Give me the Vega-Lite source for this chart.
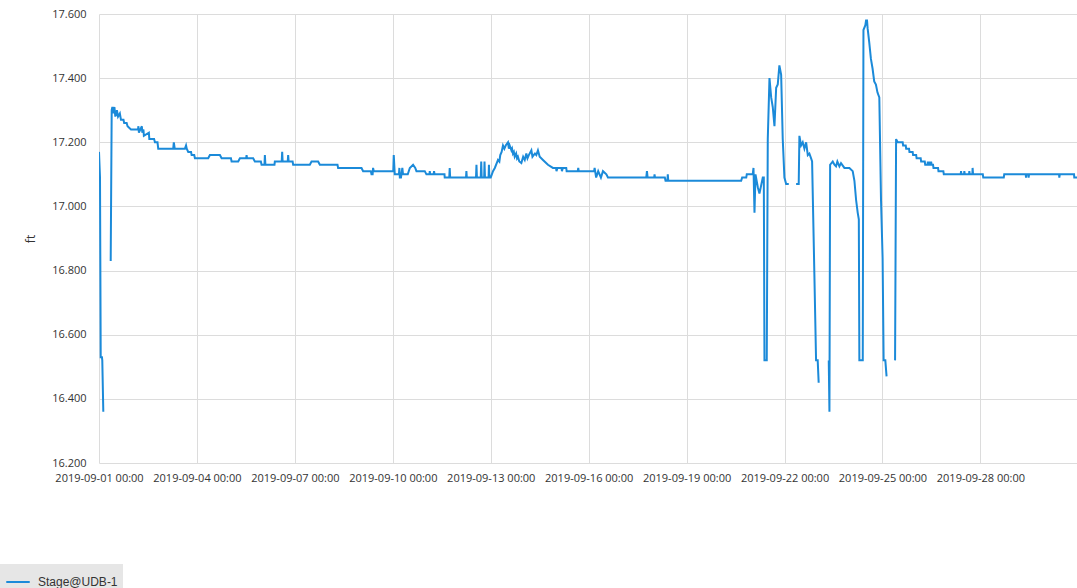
{
"$schema": "https://vega.github.io/schema/vega-lite/v6.json",
"width": 978, "height": 449,
"autosize": {"type": "none"},
"padding": {"left": 99, "top": 14, "right": 0, "bottom": 125},
"background": "white",
"config": {"view": {"stroke": null},
 "axis": {"grid": true, "gridColor": "#dcdcdc", "gridWidth": 1, "domain": false, "ticks": false, "labelFont": "Open Sans", "labelFontSize": 11, "labelColor": "#333333", "titleFont": "Open Sans", "titleFontSize": 12, "titleFontWeight": "normal", "titleColor": "#333333"}},
"data": {"values": [
{"t":"2019-09-01T00:00","v":17.17,"seg":1},
{"t":"2019-09-01T00:44","v":17.09,"seg":1},
{"t":"2019-09-01T01:15","v":16.53,"seg":1},
{"t":"2019-09-01T02:10","v":16.53,"seg":1},
{"t":"2019-09-01T02:25","v":16.52,"seg":1},
{"t":"2019-09-01T03:10","v":16.36,"seg":1},
{"t":"2019-09-01T08:36","v":16.83,"seg":2},
{"t":"2019-09-01T09:20","v":17.30,"seg":2},
{"t":"2019-09-01T09:50","v":17.31,"seg":2},
{"t":"2019-09-01T10:30","v":17.29,"seg":2},
{"t":"2019-09-01T11:20","v":17.31,"seg":2},
{"t":"2019-09-01T12:00","v":17.28,"seg":2},
{"t":"2019-09-01T13:10","v":17.30,"seg":2},
{"t":"2019-09-01T14:00","v":17.28,"seg":2},
{"t":"2019-09-01T15:20","v":17.29,"seg":2},
{"t":"2019-09-01T16:10","v":17.27,"seg":2},
{"t":"2019-09-01T18:00","v":17.27,"seg":2},
{"t":"2019-09-01T18:30","v":17.26,"seg":2},
{"t":"2019-09-01T20:20","v":17.26,"seg":2},
{"t":"2019-09-01T21:00","v":17.25,"seg":2},
{"t":"2019-09-01T23:30","v":17.24,"seg":2},
{"t":"2019-09-02T04:40","v":17.24,"seg":2},
{"t":"2019-09-02T05:00","v":17.25,"seg":2},
{"t":"2019-09-02T05:20","v":17.23,"seg":2},
{"t":"2019-09-02T07:30","v":17.25,"seg":2},
{"t":"2019-09-02T07:50","v":17.23,"seg":2},
{"t":"2019-09-02T08:40","v":17.24,"seg":2},
{"t":"2019-09-02T09:00","v":17.22,"seg":2},
{"t":"2019-09-02T12:40","v":17.23,"seg":2},
{"t":"2019-09-02T13:00","v":17.21,"seg":2},
{"t":"2019-09-02T16:30","v":17.21,"seg":2},
{"t":"2019-09-02T17:08","v":17.20,"seg":2},
{"t":"2019-09-02T19:00","v":17.20,"seg":2},
{"t":"2019-09-02T19:33","v":17.18,"seg":2},
{"t":"2019-09-03T06:35","v":17.18,"seg":2},
{"t":"2019-09-03T07:00","v":17.20,"seg":2},
{"t":"2019-09-03T07:40","v":17.18,"seg":2},
{"t":"2019-09-03T15:11","v":17.18,"seg":2},
{"t":"2019-09-03T16:00","v":17.19,"seg":2},
{"t":"2019-09-03T16:30","v":17.18,"seg":2},
{"t":"2019-09-03T17:36","v":17.17,"seg":2},
{"t":"2019-09-03T19:40","v":17.17,"seg":2},
{"t":"2019-09-03T20:06","v":17.16,"seg":2},
{"t":"2019-09-03T22:00","v":17.16,"seg":2},
{"t":"2019-09-03T22:31","v":17.15,"seg":2},
{"t":"2019-09-04T08:18","v":17.15,"seg":2},
{"t":"2019-09-04T09:32","v":17.16,"seg":2},
{"t":"2019-09-04T16:53","v":17.16,"seg":2},
{"t":"2019-09-04T18:08","v":17.15,"seg":2},
{"t":"2019-09-05T01:00","v":17.15,"seg":2},
{"t":"2019-09-05T01:29","v":17.14,"seg":2},
{"t":"2019-09-05T06:20","v":17.14,"seg":2},
{"t":"2019-09-05T07:35","v":17.15,"seg":2},
{"t":"2019-09-05T12:10","v":17.15,"seg":2},
{"t":"2019-09-05T12:30","v":17.16,"seg":2},
{"t":"2019-09-05T12:50","v":17.15,"seg":2},
{"t":"2019-09-05T17:20","v":17.15,"seg":2},
{"t":"2019-09-05T18:36","v":17.14,"seg":2},
{"t":"2019-09-05T23:00","v":17.14,"seg":2},
{"t":"2019-09-05T23:30","v":17.13,"seg":2},
{"t":"2019-09-06T01:40","v":17.13,"seg":2},
{"t":"2019-09-06T01:57","v":17.16,"seg":2},
{"t":"2019-09-06T02:20","v":17.13,"seg":2},
{"t":"2019-09-06T09:00","v":17.13,"seg":2},
{"t":"2019-09-06T09:17","v":17.14,"seg":2},
{"t":"2019-09-06T14:20","v":17.14,"seg":2},
{"t":"2019-09-06T14:40","v":17.17,"seg":2},
{"t":"2019-09-06T15:00","v":17.14,"seg":2},
{"t":"2019-09-06T18:45","v":17.14,"seg":2},
{"t":"2019-09-06T19:04","v":17.16,"seg":2},
{"t":"2019-09-06T19:25","v":17.14,"seg":2},
{"t":"2019-09-06T22:20","v":17.14,"seg":2},
{"t":"2019-09-06T22:44","v":17.13,"seg":2},
{"t":"2019-09-07T11:00","v":17.13,"seg":2},
{"t":"2019-09-07T12:15","v":17.14,"seg":2},
{"t":"2019-09-07T17:06","v":17.14,"seg":2},
{"t":"2019-09-07T18:21","v":17.13,"seg":2},
{"t":"2019-09-08T07:20","v":17.13,"seg":2},
{"t":"2019-09-08T07:47","v":17.12,"seg":2},
{"t":"2019-09-09T01:00","v":17.12,"seg":2},
{"t":"2019-09-09T02:10","v":17.11,"seg":2},
{"t":"2019-09-09T07:50","v":17.11,"seg":2},
{"t":"2019-09-09T08:20","v":17.10,"seg":2},
{"t":"2019-09-09T09:10","v":17.10,"seg":2},
{"t":"2019-09-09T09:30","v":17.12,"seg":2},
{"t":"2019-09-09T10:00","v":17.11,"seg":2},
{"t":"2019-09-10T00:20","v":17.11,"seg":2},
{"t":"2019-09-10T00:42","v":17.16,"seg":2},
{"t":"2019-09-10T01:26","v":17.10,"seg":2},
{"t":"2019-09-10T04:30","v":17.10,"seg":2},
{"t":"2019-09-10T04:50","v":17.12,"seg":2},
{"t":"2019-09-10T05:10","v":17.09,"seg":2},
{"t":"2019-09-10T06:00","v":17.09,"seg":2},
{"t":"2019-09-10T07:00","v":17.12,"seg":2},
{"t":"2019-09-10T07:30","v":17.10,"seg":2},
{"t":"2019-09-10T11:00","v":17.10,"seg":2},
{"t":"2019-09-10T12:30","v":17.12,"seg":2},
{"t":"2019-09-10T14:54","v":17.13,"seg":2},
{"t":"2019-09-10T16:30","v":17.12,"seg":2},
{"t":"2019-09-10T17:23","v":17.11,"seg":2},
{"t":"2019-09-10T23:30","v":17.11,"seg":2},
{"t":"2019-09-11T00:43","v":17.10,"seg":2},
{"t":"2019-09-11T03:00","v":17.10,"seg":2},
{"t":"2019-09-11T03:10","v":17.11,"seg":2},
{"t":"2019-09-11T03:30","v":17.10,"seg":2},
{"t":"2019-09-11T06:00","v":17.10,"seg":2},
{"t":"2019-09-11T06:20","v":17.11,"seg":2},
{"t":"2019-09-11T06:40","v":17.10,"seg":2},
{"t":"2019-09-11T14:00","v":17.10,"seg":2},
{"t":"2019-09-11T14:10","v":17.09,"seg":2},
{"t":"2019-09-11T17:30","v":17.09,"seg":2},
{"t":"2019-09-11T17:50","v":17.12,"seg":2},
{"t":"2019-09-11T18:10","v":17.09,"seg":2},
{"t":"2019-09-12T05:50","v":17.09,"seg":2},
{"t":"2019-09-12T06:06","v":17.11,"seg":2},
{"t":"2019-09-12T06:25","v":17.09,"seg":2},
{"t":"2019-09-12T13:10","v":17.09,"seg":2},
{"t":"2019-09-12T13:30","v":17.13,"seg":2},
{"t":"2019-09-12T13:50","v":17.09,"seg":2},
{"t":"2019-09-12T16:40","v":17.09,"seg":2},
{"t":"2019-09-12T17:00","v":17.14,"seg":2},
{"t":"2019-09-12T17:20","v":17.09,"seg":2},
{"t":"2019-09-12T19:10","v":17.09,"seg":2},
{"t":"2019-09-12T19:25","v":17.14,"seg":2},
{"t":"2019-09-12T19:45","v":17.09,"seg":2},
{"t":"2019-09-12T22:25","v":17.09,"seg":2},
{"t":"2019-09-12T22:40","v":17.13,"seg":2},
{"t":"2019-09-12T23:00","v":17.09,"seg":2},
{"t":"2019-09-13T00:00","v":17.09,"seg":2},
{"t":"2019-09-13T01:40","v":17.11,"seg":2},
{"t":"2019-09-13T03:00","v":17.12,"seg":2},
{"t":"2019-09-13T05:20","v":17.145,"seg":2},
{"t":"2019-09-13T06:20","v":17.14,"seg":2},
{"t":"2019-09-13T07:00","v":17.16,"seg":2},
{"t":"2019-09-13T08:00","v":17.17,"seg":2},
{"t":"2019-09-13T09:00","v":17.19,"seg":2},
{"t":"2019-09-13T10:00","v":17.18,"seg":2},
{"t":"2019-09-13T11:00","v":17.19,"seg":2},
{"t":"2019-09-13T12:40","v":17.20,"seg":2},
{"t":"2019-09-13T13:20","v":17.18,"seg":2},
{"t":"2019-09-13T13:55","v":17.19,"seg":2},
{"t":"2019-09-13T15:10","v":17.175,"seg":2},
{"t":"2019-09-13T15:40","v":17.18,"seg":2},
{"t":"2019-09-13T16:20","v":17.165,"seg":2},
{"t":"2019-09-13T17:00","v":17.17,"seg":2},
{"t":"2019-09-13T17:37","v":17.155,"seg":2},
{"t":"2019-09-13T18:40","v":17.165,"seg":2},
{"t":"2019-09-13T19:20","v":17.15,"seg":2},
{"t":"2019-09-13T20:00","v":17.155,"seg":2},
{"t":"2019-09-13T21:00","v":17.14,"seg":2},
{"t":"2019-09-13T22:30","v":17.135,"seg":2},
{"t":"2019-09-13T23:50","v":17.155,"seg":2},
{"t":"2019-09-14T01:00","v":17.145,"seg":2},
{"t":"2019-09-14T02:10","v":17.165,"seg":2},
{"t":"2019-09-14T03:00","v":17.15,"seg":2},
{"t":"2019-09-14T04:00","v":17.16,"seg":2},
{"t":"2019-09-14T05:52","v":17.175,"seg":2},
{"t":"2019-09-14T06:40","v":17.155,"seg":2},
{"t":"2019-09-14T08:30","v":17.165,"seg":2},
{"t":"2019-09-14T09:30","v":17.16,"seg":2},
{"t":"2019-09-14T10:42","v":17.175,"seg":2},
{"t":"2019-09-14T12:00","v":17.155,"seg":2},
{"t":"2019-09-14T14:24","v":17.145,"seg":2},
{"t":"2019-09-14T18:03","v":17.13,"seg":2},
{"t":"2019-09-14T21:43","v":17.12,"seg":2},
{"t":"2019-09-15T00:00","v":17.12,"seg":2},
{"t":"2019-09-15T00:20","v":17.11,"seg":2},
{"t":"2019-09-15T01:00","v":17.12,"seg":2},
{"t":"2019-09-15T04:00","v":17.12,"seg":2},
{"t":"2019-09-15T04:20","v":17.11,"seg":2},
{"t":"2019-09-15T05:00","v":17.12,"seg":2},
{"t":"2019-09-15T07:30","v":17.12,"seg":2},
{"t":"2019-09-15T07:48","v":17.11,"seg":2},
{"t":"2019-09-15T16:00","v":17.11,"seg":2},
{"t":"2019-09-15T16:20","v":17.12,"seg":2},
{"t":"2019-09-15T16:40","v":17.11,"seg":2},
{"t":"2019-09-16T04:00","v":17.11,"seg":2},
{"t":"2019-09-16T04:22","v":17.12,"seg":2},
{"t":"2019-09-16T05:30","v":17.09,"seg":2},
{"t":"2019-09-16T07:00","v":17.11,"seg":2},
{"t":"2019-09-16T09:00","v":17.09,"seg":2},
{"t":"2019-09-16T10:30","v":17.11,"seg":2},
{"t":"2019-09-16T13:00","v":17.10,"seg":2},
{"t":"2019-09-16T14:10","v":17.09,"seg":2},
{"t":"2019-09-17T18:20","v":17.09,"seg":2},
{"t":"2019-09-17T18:50","v":17.11,"seg":2},
{"t":"2019-09-17T19:20","v":17.09,"seg":2},
{"t":"2019-09-18T00:10","v":17.09,"seg":2},
{"t":"2019-09-18T00:25","v":17.10,"seg":2},
{"t":"2019-09-18T00:45","v":17.09,"seg":2},
{"t":"2019-09-18T08:00","v":17.09,"seg":2},
{"t":"2019-09-18T08:30","v":17.08,"seg":2},
{"t":"2019-09-18T09:50","v":17.08,"seg":2},
{"t":"2019-09-18T10:10","v":17.10,"seg":2},
{"t":"2019-09-18T10:30","v":17.08,"seg":2},
{"t":"2019-09-20T16:06","v":17.08,"seg":2},
{"t":"2019-09-20T16:50","v":17.09,"seg":2},
{"t":"2019-09-20T19:50","v":17.09,"seg":2},
{"t":"2019-09-20T20:14","v":17.10,"seg":2},
{"t":"2019-09-21T00:36","v":17.10,"seg":2},
{"t":"2019-09-21T01:10","v":17.12,"seg":2},
{"t":"2019-09-21T01:54","v":16.98,"seg":2},
{"t":"2019-09-21T02:38","v":17.10,"seg":2},
{"t":"2019-09-21T04:20","v":17.06,"seg":2},
{"t":"2019-09-21T05:32","v":17.04,"seg":2},
{"t":"2019-09-21T08:00","v":17.09,"seg":2},
{"t":"2019-09-21T08:45","v":17.09,"seg":2},
{"t":"2019-09-21T09:14","v":16.52,"seg":2},
{"t":"2019-09-21T10:55","v":16.52,"seg":2},
{"t":"2019-09-21T11:40","v":17.21,"seg":2},
{"t":"2019-09-21T12:55","v":17.40,"seg":2},
{"t":"2019-09-21T14:10","v":17.34,"seg":2},
{"t":"2019-09-21T15:20","v":17.31,"seg":2},
{"t":"2019-09-21T16:35","v":17.25,"seg":2},
{"t":"2019-09-21T17:50","v":17.37,"seg":2},
{"t":"2019-09-21T19:00","v":17.38,"seg":2},
{"t":"2019-09-21T20:12","v":17.44,"seg":2},
{"t":"2019-09-21T21:30","v":17.41,"seg":2},
{"t":"2019-09-21T22:40","v":17.21,"seg":2},
{"t":"2019-09-21T23:54","v":17.09,"seg":2},
{"t":"2019-09-22T01:10","v":17.07,"seg":2},
{"t":"2019-09-22T03:06","v":17.07,"seg":2},
{"t":"2019-09-22T08:30","v":17.07,"seg":3},
{"t":"2019-09-22T10:25","v":17.07,"seg":3},
{"t":"2019-09-22T10:55","v":17.22,"seg":3},
{"t":"2019-09-22T12:10","v":17.19,"seg":3},
{"t":"2019-09-22T13:22","v":17.20,"seg":3},
{"t":"2019-09-22T14:36","v":17.18,"seg":3},
{"t":"2019-09-22T15:52","v":17.20,"seg":3},
{"t":"2019-09-22T17:05","v":17.16,"seg":3},
{"t":"2019-09-22T18:15","v":17.165,"seg":3},
{"t":"2019-09-22T19:30","v":17.15,"seg":3},
{"t":"2019-09-22T20:15","v":17.14,"seg":3},
{"t":"2019-09-22T21:55","v":16.79,"seg":3},
{"t":"2019-09-22T23:10","v":16.52,"seg":3},
{"t":"2019-09-23T00:22","v":16.52,"seg":3},
{"t":"2019-09-23T01:05","v":16.45,"seg":3},
{"t":"2019-09-23T08:30","v":16.52,"seg":4},
{"t":"2019-09-23T09:00","v":16.36,"seg":4},
{"t":"2019-09-23T09:30","v":17.13,"seg":4},
{"t":"2019-09-23T11:25","v":17.14,"seg":4},
{"t":"2019-09-23T12:40","v":17.13,"seg":4},
{"t":"2019-09-23T13:50","v":17.125,"seg":4},
{"t":"2019-09-23T14:50","v":17.14,"seg":4},
{"t":"2019-09-23T16:20","v":17.125,"seg":4},
{"t":"2019-09-23T17:30","v":17.135,"seg":4},
{"t":"2019-09-23T20:00","v":17.12,"seg":4},
{"t":"2019-09-23T23:40","v":17.12,"seg":4},
{"t":"2019-09-24T02:06","v":17.11,"seg":4},
{"t":"2019-09-24T03:22","v":17.08,"seg":4},
{"t":"2019-09-24T04:36","v":17.02,"seg":4},
{"t":"2019-09-24T05:48","v":16.98,"seg":4},
{"t":"2019-09-24T06:36","v":16.96,"seg":4},
{"t":"2019-09-24T07:00","v":16.52,"seg":4},
{"t":"2019-09-24T09:30","v":16.52,"seg":4},
{"t":"2019-09-24T10:00","v":17.55,"seg":4},
{"t":"2019-09-24T11:25","v":17.565,"seg":4},
{"t":"2019-09-24T11:55","v":17.58,"seg":4},
{"t":"2019-09-24T12:38","v":17.58,"seg":4},
{"t":"2019-09-24T13:05","v":17.555,"seg":4},
{"t":"2019-09-24T14:18","v":17.51,"seg":4},
{"t":"2019-09-24T15:30","v":17.46,"seg":4},
{"t":"2019-09-24T16:42","v":17.43,"seg":4},
{"t":"2019-09-24T17:55","v":17.39,"seg":4},
{"t":"2019-09-24T19:10","v":17.38,"seg":4},
{"t":"2019-09-24T20:20","v":17.355,"seg":4},
{"t":"2019-09-24T21:40","v":17.34,"seg":4},
{"t":"2019-09-24T22:55","v":17.02,"seg":4},
{"t":"2019-09-25T00:05","v":16.84,"seg":4},
{"t":"2019-09-25T00:50","v":16.52,"seg":4},
{"t":"2019-09-25T02:05","v":16.52,"seg":4},
{"t":"2019-09-25T03:00","v":16.47,"seg":4},
{"t":"2019-09-25T09:15","v":16.52,"seg":5},
{"t":"2019-09-25T10:00","v":17.21,"seg":5},
{"t":"2019-09-25T11:10","v":17.20,"seg":5},
{"t":"2019-09-25T14:50","v":17.20,"seg":5},
{"t":"2019-09-25T15:10","v":17.19,"seg":5},
{"t":"2019-09-25T17:05","v":17.19,"seg":5},
{"t":"2019-09-25T17:25","v":17.18,"seg":5},
{"t":"2019-09-25T19:30","v":17.18,"seg":5},
{"t":"2019-09-25T19:50","v":17.17,"seg":5},
{"t":"2019-09-25T22:10","v":17.17,"seg":5},
{"t":"2019-09-25T22:30","v":17.16,"seg":5},
{"t":"2019-09-26T00:45","v":17.16,"seg":5},
{"t":"2019-09-26T01:05","v":17.15,"seg":5},
{"t":"2019-09-26T04:05","v":17.15,"seg":5},
{"t":"2019-09-26T04:25","v":17.14,"seg":5},
{"t":"2019-09-26T07:05","v":17.14,"seg":5},
{"t":"2019-09-26T07:25","v":17.13,"seg":5},
{"t":"2019-09-26T09:10","v":17.13,"seg":5},
{"t":"2019-09-26T09:20","v":17.14,"seg":5},
{"t":"2019-09-26T09:40","v":17.13,"seg":5},
{"t":"2019-09-26T10:20","v":17.13,"seg":5},
{"t":"2019-09-26T10:30","v":17.14,"seg":5},
{"t":"2019-09-26T10:50","v":17.13,"seg":5},
{"t":"2019-09-26T11:35","v":17.13,"seg":5},
{"t":"2019-09-26T11:45","v":17.14,"seg":5},
{"t":"2019-09-26T12:05","v":17.13,"seg":5},
{"t":"2019-09-26T13:10","v":17.13,"seg":5},
{"t":"2019-09-26T13:30","v":17.12,"seg":5},
{"t":"2019-09-26T16:50","v":17.12,"seg":5},
{"t":"2019-09-26T17:10","v":17.11,"seg":5},
{"t":"2019-09-26T20:45","v":17.11,"seg":5},
{"t":"2019-09-26T21:05","v":17.10,"seg":5},
{"t":"2019-09-27T09:30","v":17.10,"seg":5},
{"t":"2019-09-27T09:45","v":17.11,"seg":5},
{"t":"2019-09-27T10:00","v":17.10,"seg":5},
{"t":"2019-09-27T12:00","v":17.10,"seg":5},
{"t":"2019-09-27T12:10","v":17.11,"seg":5},
{"t":"2019-09-27T12:30","v":17.10,"seg":5},
{"t":"2019-09-27T15:40","v":17.10,"seg":5},
{"t":"2019-09-27T15:50","v":17.11,"seg":5},
{"t":"2019-09-27T16:10","v":17.10,"seg":5},
{"t":"2019-09-27T18:05","v":17.10,"seg":5},
{"t":"2019-09-27T18:15","v":17.12,"seg":5},
{"t":"2019-09-27T18:35","v":17.10,"seg":5},
{"t":"2019-09-28T01:45","v":17.10,"seg":5},
{"t":"2019-09-28T02:05","v":17.09,"seg":5},
{"t":"2019-09-28T17:10","v":17.09,"seg":5},
{"t":"2019-09-28T17:30","v":17.10,"seg":5},
{"t":"2019-09-29T09:20","v":17.10,"seg":5},
{"t":"2019-09-29T09:30","v":17.09,"seg":5},
{"t":"2019-09-29T09:50","v":17.10,"seg":5},
{"t":"2019-09-29T11:15","v":17.10,"seg":5},
{"t":"2019-09-29T11:25","v":17.09,"seg":5},
{"t":"2019-09-29T11:45","v":17.10,"seg":5},
{"t":"2019-09-30T09:50","v":17.10,"seg":5},
{"t":"2019-09-30T10:00","v":17.09,"seg":5},
{"t":"2019-09-30T10:20","v":17.10,"seg":5},
{"t":"2019-09-30T20:50","v":17.10,"seg":5},
{"t":"2019-09-30T21:00","v":17.09,"seg":5},
{"t":"2019-09-30T23:00","v":17.09,"seg":5}
]},
"mark": {"type": "line", "strokeWidth": 2, "clip": true},
"encoding": {
 "x": {"field": "t", "type": "temporal",
  "scale": {"domain": [{"year": 2019, "month": 9, "date": 1, "hours": 0}, {"year": 2019, "month": 9, "date": 30, "hours": 23}]},
  "axis": {"title": null, "format": "%Y-%m-%d %H:%M", "tickCount": {"interval": "day", "step": 3}, "labelPadding": 9, "labelAngle": 0, "labelOverlap": false, "labelFlush": false}},
 "y": {"field": "v", "type": "quantitative",
  "scale": {"domain": [16.2, 17.6], "zero": false, "nice": false},
  "axis": {"title": "ft", "values": [16.2, 16.4, 16.6, 16.8, 17.0, 17.2, 17.4, 17.6], "format": ".3f", "labelPadding": 13, "titlePadding": 14}},
 "detail": {"field": "seg", "type": "nominal"},
 "color": {"datum": "Stage@UDB-1", "type": "nominal",
  "scale": {"range": ["#1b8ad9"]},
  "legend": {"title": null, "orient": "none", "legendX": -99, "legendY": 550, "fillColor": "#e6e6e6", "padding": 5, "symbolType": "stroke", "symbolSize": 550, "symbolStrokeWidth": 2, "labelFont": "Liberation Sans", "labelFontSize": 12, "labelColor": "#333333", "labelOffset": 7, "labelExpr": "datum.label + '    '"}}
}
}
